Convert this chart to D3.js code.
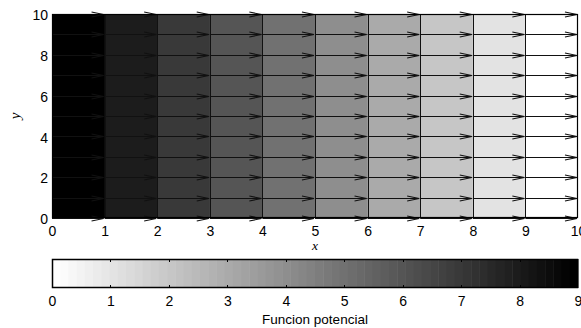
<!DOCTYPE html>
<html><head><meta charset="utf-8">
<script src="https://cdn.jsdelivr.net/npm/d3@7"></script>
<style>body{margin:0;background:#fff}svg{display:block}</style>
</head><body>
<svg id="c" width="581" height="328"></svg>
<script>
// ---- data ----
const columnEdges = [0,1,2,3,4,5,6,7,8,9,10];
const potential = [9,8,7,6,5,4,3,2,1,0];          // potential value in each column band
const contourLevels = [1,2,3,4,5,6,7,8,9];         // x where contour lines sit
const arrowX = [0,1,2,3,4,5,6,7,8,9];
const arrowY = [0,1,2,3,4,5,6,7,8,9,10];
const arrowU = 1, arrowV = 0;                      // uniform velocity field
const xTicks = [0,1,2,3,4,5,6,7,8,9,10];
const yTicks = [0,2,4,6,8,10];
const cbTicks = [0,1,2,3,4,5,6,7,8,9];
const cbInnerTicks = [1,2,3,4,5,6,7,8];
const nColors = 64;
const cbLabel = "Funcion potencial";

// ---- layout ----
const svg = d3.select("#c");
const X0 = 52, X1 = 578, YT = 14, YB = 218;
const x = d3.scaleLinear().domain([0,10]).range([X0,X1]);
const y = d3.scaleLinear().domain([0,10]).range([YB,YT]);
const cbTop = 259, cbBot = 288;
const cb = d3.scaleLinear().domain([0,9]).range([X0,X1]);
const gray = v => {
  const idx = Math.round(v/9*(nColors-1));
  const g = Math.round(255*(1-idx/(nColors-1)));
  return `rgb(${g},${g},${g})`;
};
const font = "'Liberation Sans', Arial, Helvetica, sans-serif";

// columns
svg.append("g").selectAll("rect").data(potential).join("rect")
  .attr("x",(d,i)=>x(columnEdges[i]))
  .attr("width",(d,i)=>x(columnEdges[i+1])-x(columnEdges[i])+0.5)
  .attr("y",y(10)).attr("height",y(0)-y(10))
  .attr("fill",d=>gray(d));

// contour lines
svg.append("g").selectAll("line").data(contourLevels).join("line")
  .attr("x1",d=>Math.round(x(d))+0.5).attr("x2",d=>Math.round(x(d))+0.5)
  .attr("y1",y(10)).attr("y2",y(0))
  .attr("stroke","#111").attr("stroke-width",1);

// arrows
const pts = [];
arrowY.forEach(ay=>arrowX.forEach(ax=>pts.push([ax,ay])));
const ag = svg.append("g").attr("stroke","#111").attr("stroke-width",1.1).attr("fill","none");
pts.forEach(([ax,ay])=>{
  const x1 = x(ax), y1 = Math.round(y(ay))+0.5;
  const x2 = x(ax+arrowU*0.98), y2 = Math.round(y(ay+arrowV))+0.5;
  ag.append("line").attr("x1",x1).attr("y1",y1).attr("x2",x2).attr("y2",y2);
  ag.append("path").attr("d",`M${x2-12},${y2-2.5}L${x2},${y2}L${x2-12},${y2+2.5}`);
});

// box
svg.append("rect").attr("x",X0+0.5).attr("y",YT+0.5)
  .attr("width",X1-X0-1).attr("height",YB-YT-1)
  .attr("fill","none").attr("stroke","#000").attr("stroke-width",1.2);

// axes labels
const xa = svg.append("g").attr("transform",`translate(0,${YB})`)
  .call(d3.axisBottom(x).tickValues(xTicks).tickSize(0).tickPadding(8).tickFormat(d3.format("d")));
xa.select(".domain").remove();
const ya = svg.append("g").attr("transform",`translate(${X0},0)`)
  .call(d3.axisLeft(y).tickValues(yTicks).tickSize(0).tickPadding(4).tickFormat(d3.format("d")));
ya.select(".domain").remove();
ya.selectAll("text").attr("dy","0.4em");
svg.selectAll(".tick text").attr("font-family",font).attr("font-size",14).attr("fill","#000");

svg.append("text").attr("x",x(5)).attr("y",250).attr("text-anchor","middle")
  .attr("font-family","'Liberation Serif','DejaVu Serif',serif").attr("font-style","italic")
  .attr("font-size",13.5).text("x");
svg.append("text").attr("transform",`translate(20,${y(5)}) rotate(-90)`).attr("text-anchor","middle")
  .attr("font-family","'Liberation Serif','DejaVu Serif',serif").attr("font-style","italic")
  .attr("font-size",15).text("y");

// colorbar
const bands = d3.range(nColors);
const bw = 9/nColors;
svg.append("g").selectAll("rect").data(bands).join("rect")
  .attr("x",j=>cb(j*bw)).attr("width",j=>cb((j+1)*bw)-cb(j*bw)+0.5)
  .attr("y",cbTop).attr("height",cbBot-cbTop)
  .attr("fill",j=>{const g=Math.round(255*(1-j/(nColors-1)));return `rgb(${g},${g},${g})`;});
const tg = svg.append("g").attr("stroke","#000").attr("stroke-width",1);
cbInnerTicks.forEach(t=>{
  const tx = Math.round(cb(t))+0.5;
  tg.append("line").attr("x1",tx).attr("x2",tx).attr("y1",cbTop).attr("y2",cbTop+3);
  tg.append("line").attr("x1",tx).attr("x2",tx).attr("y1",cbBot).attr("y2",cbBot-3);
});
svg.append("rect").attr("x",X0+0.5).attr("y",cbTop+0.5)
  .attr("width",X1-X0-1).attr("height",cbBot-cbTop-1)
  .attr("fill","none").attr("stroke","#000").attr("stroke-width",1.5);
const ca = svg.append("g").attr("transform",`translate(0,${cbBot})`)
  .call(d3.axisBottom(cb).tickValues(cbTicks).tickSize(0).tickPadding(8).tickFormat(d3.format("d")));
ca.select(".domain").remove();
ca.selectAll("text").attr("font-family",font).attr("font-size",14).attr("fill","#000");
svg.append("text").attr("x",(X0+X1)/2+0).attr("y",324).attr("text-anchor","middle")
  .attr("font-family",font).attr("font-size",13.5).text(cbLabel);
</script>
</body></html>
